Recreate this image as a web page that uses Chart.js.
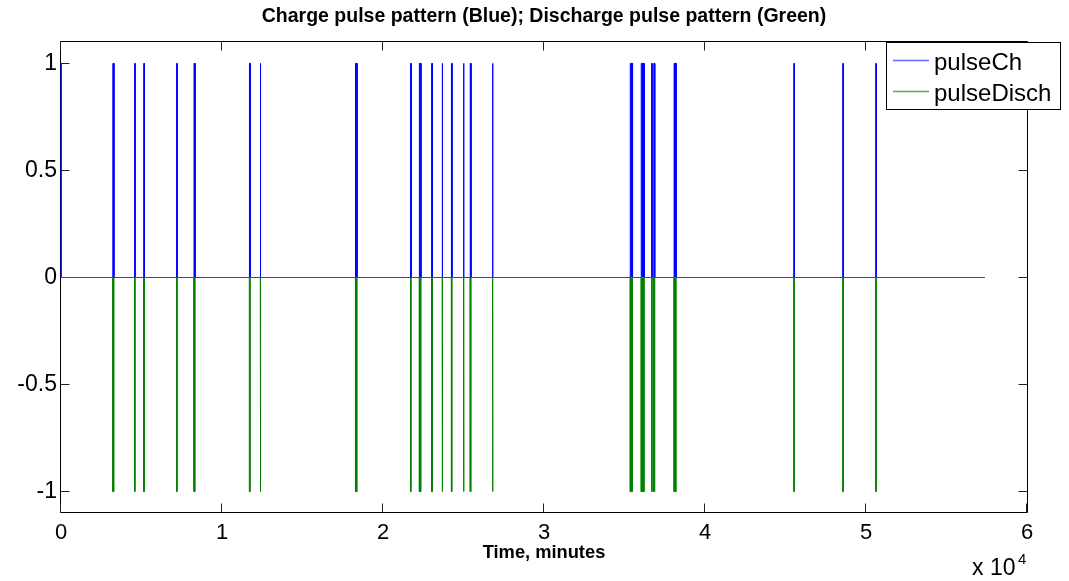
<!DOCTYPE html>
<html><head><meta charset="utf-8">
<script src="https://cdn.jsdelivr.net/npm/chart.js@4.4.1/dist/chart.umd.min.js"></script>
<style>html,body{margin:0;padding:0;background:#fff;overflow:hidden}canvas{display:block}</style>
</head><body>
<canvas id="c" width="1069" height="581"></canvas>
<script>
// ---- data (minutes) ----
const chargeStart = [0, 3220, 4580, 5140, 7190, 8260, 11705, 12380, 18290, 21710, 22260, 23020, 23677, 24250, 25004, 25420, 26804, 35360, 36040, 36693, 36820, 38080, 45525, 48566, 50615];
const chargeWidth = [20, 70, 20, 40, 20, 70, 50, 20, 100, 40, 100, 50, 20, 40, 20, 50, 20, 140, 190, 20, 60, 130, 20, 20, 20];
const dischargeStart = [3220, 4580, 5140, 7190, 8260, 11705, 12380, 18290, 21710, 22260, 23020, 23677, 24250, 25004, 25420, 26804, 35360, 36040, 36693, 36820, 38080, 45525, 48566, 50615];
const dischargeWidth = [70, 20, 40, 20, 70, 50, 20, 100, 40, 100, 50, 20, 40, 20, 50, 20, 140, 190, 20, 60, 130, 20, 20, 20];
const chargeLevel = 1;
const dischargeLevel = -1;
const timeEnd = 57370;

const xTickValues = [0, 10000, 20000, 30000, 40000, 50000, 60000];
const xTickLabels = ['0', '1', '2', '3', '4', '5', '6'];
const yTickValues = [-1, -0.5, 0, 0.5, 1];
const yTickLabels = ['-1', '-0.5', '0', '0.5', '1'];
const seriesNames = ['pulseCh', 'pulseDisch'];
const seriesColors = ['#0000ff', '#008000'];
const legendColors = ['#6a6aff', '#5aa55a'];
const titleText = 'Charge pulse pattern (Blue); Discharge pulse pattern (Green)';
const xLabelText = 'Time, minutes';
const xExponentBase = 'x 10';
const xExponent = '4';

// build pulse train points from the arrays
function pulseTrain(starts, widths, level) {
  const pts = [{x: 0, y: 0}];
  starts.forEach((t, i) => {
    const w = widths[i];
    pts.push({x: t, y: 0}, {x: t, y: level}, {x: t + w, y: level}, {x: t + w, y: 0});
  });
  pts.push({x: timeEnd, y: 0});
  return pts;
}

const FONT = "'Liberation Sans', Arial, sans-serif";

const framePlugin = {
  id: 'frame',
  beforeDatasetsDraw(chart) {
    const {ctx, chartArea: a, scales: {x, y}} = chart;
    ctx.save();
    ctx.strokeStyle = '#000';
    ctx.lineWidth = 1;
    const L = a.left - 0.5, R = a.right + 0.5, T = a.top - 0.5, B = a.bottom - 0.5;
    ctx.beginPath();
    ctx.moveTo(L, T); ctx.lineTo(R, T); ctx.lineTo(R, B); ctx.lineTo(L, B); ctx.closePath();
    ctx.stroke();
    ctx.strokeStyle = '#222';
    ctx.beginPath();
    const tl = 9;
    x.ticks.forEach(t => {
      const px = Math.round(x.getPixelForValue(t.value)) - 0.5;
      ctx.moveTo(px, B); ctx.lineTo(px, B - tl);
      ctx.moveTo(px, T); ctx.lineTo(px, T + tl);
    });
    y.ticks.forEach(t => {
      const py = Math.floor(y.getPixelForValue(t.value)) + 0.5;
      ctx.moveTo(L, py); ctx.lineTo(L + tl, py);
      ctx.moveTo(R, py); ctx.lineTo(R - tl, py);
    });
    ctx.stroke();
    ctx.restore();
  },
  afterDraw(chart) {
    const {ctx, chartArea: a} = chart;
    ctx.save();
    ctx.fillStyle = '#000';
    // title
    ctx.font = 'bold 19.5px ' + FONT;
    ctx.textAlign = 'center';
    ctx.textBaseline = 'middle';
    ctx.fillText(titleText, (a.left + a.right) / 2, 17);
    // x label
    ctx.font = 'bold 18.3px ' + FONT;
    ctx.fillText(xLabelText, (a.left + a.right) / 2, 553);
    // exponent
    ctx.textAlign = 'left';
    ctx.font = '23px ' + FONT;
    ctx.fillText(xExponentBase, 972, 569);
    ctx.font = '15px ' + FONT;
    ctx.fillText(xExponent, 1018, 560);
    // legend
    const bx = 886.5, by = 42.5, bw = 174, bh = 67;
    ctx.fillStyle = '#fff';
    ctx.fillRect(bx, by, bw, bh);
    ctx.strokeStyle = '#000';
    ctx.lineWidth = 1;
    ctx.strokeRect(bx, by, bw, bh);
    const rows = [60.5, 91.5];
    ctx.font = '24px ' + FONT;
    ctx.textBaseline = 'middle';
    seriesNames.forEach((n, i) => {
      ctx.strokeStyle = legendColors[i];
      ctx.lineWidth = 1.5;
      ctx.beginPath();
      ctx.moveTo(893, rows[i]); ctx.lineTo(929, rows[i]);
      ctx.stroke();
      ctx.fillStyle = '#000';
      ctx.fillText(n, 934, rows[i] + 2.5);
    });
    ctx.restore();
  }
};

new Chart(document.getElementById('c'), {
  type: 'line',
  data: {
    datasets: [
      {
        label: seriesNames[0],
        data: pulseTrain(chargeStart, chargeWidth, chargeLevel),
        borderColor: seriesColors[0],
        backgroundColor: seriesColors[0],
        fill: 'origin',
        order: 2
      },
      {
        label: seriesNames[1],
        data: pulseTrain(dischargeStart, dischargeWidth, dischargeLevel),
        borderColor: seriesColors[1],
        backgroundColor: seriesColors[1],
        fill: 'origin',
        order: 1
      }
    ]
  },
  options: {
    responsive: false,
    animation: false,
    devicePixelRatio: 1,
    events: [],
    layout: {padding: {top: 42, right: 42, left: 0, bottom: 0}},
    elements: {
      line: {borderWidth: 1, tension: 0},
      point: {radius: 0}
    },
    datasets: {line: {clip: false}},
    plugins: {legend: {display: false}, title: {display: false}, tooltip: {enabled: false}},
    scales: {
      x: {
        type: 'linear',
        min: 0, max: 60000,
        grid: {display: false, drawTicks: false},
        border: {display: false},
        afterBuildTicks: s => { s.ticks = xTickValues.map(v => ({value: v})); },
        afterFit: s => { s.height = 68; },
        ticks: {
          padding: 7,
          color: '#000',
          font: {family: FONT, size: 22},
          maxRotation: 0,
          callback: (v, i) => xTickLabels[i]
        }
      },
      y: {
        type: 'linear',
        min: -1.1, max: 1.1,
        grid: {display: false, drawTicks: false},
        border: {display: false},
        afterBuildTicks: s => { s.ticks = yTickValues.map(v => ({value: v})); },
        afterFit: s => { s.width = 61; },
        ticks: {
          padding: 4,
          color: '#000',
          font: {family: FONT, size: 23},
          callback: (v, i) => yTickLabels[i]
        }
      }
    }
  },
  plugins: [framePlugin]
});
</script>
</body></html>
